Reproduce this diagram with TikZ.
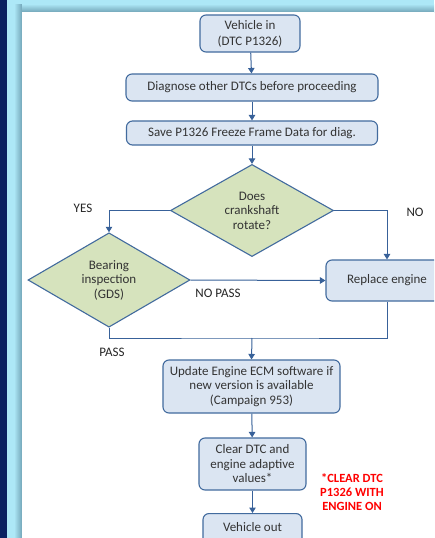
\documentclass[tikz,border=0pt]{standalone}
\usepackage{fontspec}
\setmainfont{Carlito}
\usepackage{xcolor}
\usepackage{tikz}
\usetikzlibrary{shapes.geometric,arrows.meta}
\definecolor{marino}{rgb}{0.04, 0.13, 0.38}
\definecolor{celeste}{rgb}{0.68, 0.91, 0.97}
\definecolor{sombra}{rgb}{0.45, 0.65, 0.72}
\definecolor{cajaazul}{rgb}{0.86, 0.90, 0.95}
\definecolor{bordeazul}{rgb}{0.26, 0.42, 0.62}
\definecolor{verdeoliva}{rgb}{0.84, 0.89, 0.74}
\definecolor{flecha}{rgb}{0.22, 0.38, 0.60}
\definecolor{texto}{rgb}{0.20, 0.20, 0.20}

\begin{document}
\begin{tikzpicture}[x = 1pt, y = -1pt, font = \fontsize{13}{14.5}\selectfont,
		caja/.style = {draw = bordeazul, fill = cajaazul, line width = 1.1pt, rounded corners = 6pt, text = texto, align = center, inner sep = 1pt},
		rombo/.style = {diamond, draw = bordeazul, fill = verdeoliva, line width = 1.1pt, text = texto, align = center, inner sep = 0pt},
		linea/.style = {draw = flecha, line width = 1pt},
		flechita/.style = {linea, -{Triangle[width = 6.5pt, length = 5.5pt]}},
		etiqueta/.style = {text = black!85}]
	\useasboundingbox (0,0) rectangle (434,538);
	\clip (0,0) rectangle (434,538);
	% fondo
	\fill[celeste] (0,0) rectangle (434,538);
	\shade[left color = celeste, right color = sombra] (14,4) rectangle (22,538);
	\shade[top color = celeste, bottom color = sombra] (22,4) rectangle (434,12);
	\fill[marino] (0,0) rectangle (7,538);
	\fill[white] (22,12) rectangle (434,538);
	% cajas
	\node[caja, minimum width = 100pt, minimum height = 37pt, font = \fontsize{13}{16}\selectfont] (entrada) at (250,33.5) {Vehicle in\\(DTC P1326)};
	\node[caja, minimum width = 252pt, minimum height = 27pt] (diagnostico) at (252,87.5) {Diagnose other DTCs before proceeding};
	\node[caja, minimum width = 251pt, minimum height = 24pt] (guardar) at (252,133) {Save P1326 Freeze Frame Data for diag.};
	\node[rombo, minimum width = 163pt, minimum height = 77pt] (cigueñal) at (252,210.5) {Does\\crankshaft\\rotate?};
	\node[rombo, minimum width = 162pt, minimum height = 76pt] (cojinete) at (109,280) {Bearing\\inspection\\(GDS)};
	\node[caja, minimum width = 122pt, minimum height = 41pt] (reemplazo) at (387,280.5) {Replace engine};
	\node[caja, minimum width = 177pt, minimum height = 53pt] (actualizar) at (251.5,386.5) {Update Engine ECM software if\\new version is available\\(Campaign 953)};
	\node[caja, minimum width = 107pt, minimum height = 52pt] (borrar) at (252.5,464) {Clear DTC and\\engine adaptive\\values*};
	\node[caja, minimum width = 99pt, minimum height = 37pt, anchor = north] (salida) at (252.5,513) {};
	\node[text = texto] (salidatexto) at (252.5,527) {Vehicle out};
	% textos
	\node[etiqueta] (si) at (83,208) {YES};
	\node[etiqueta] (no) at (415,212) {NO};
	\node[etiqueta] (nopasa) at (218,293) {NO PASS};
	\node[etiqueta] (pasa) at (112,352) {PASS};
	\node[text = red, font = \fontsize{12.5}{14}\selectfont\bfseries, align = center] (nota) at (352,492) {*CLEAR DTC\\P1326 WITH\\ENGINE ON};
	% conectores
	\coordinate (union) at (252,338);
	\draw[flechita] (entrada) -- (diagnostico);
	\draw[flechita] (diagnostico) -- (guardar);
	\draw[flechita] (guardar) -- (cigueñal);
	\draw[flechita] (cigueñal.west) -| (cojinete.north);
	\draw[flechita] (cigueñal.east) -| (reemplazo.north);
	\draw[flechita] (cojinete.east) -- (reemplazo.west);
	\draw[linea] (cojinete.south) |- (union) -| (reemplazo.south);
	\draw[flechita] (union) -- (actualizar.north);
	\draw[flechita] (actualizar) -- (borrar);
	\draw[flechita] (borrar) -- (salida);
\end{tikzpicture}
\end{document}
